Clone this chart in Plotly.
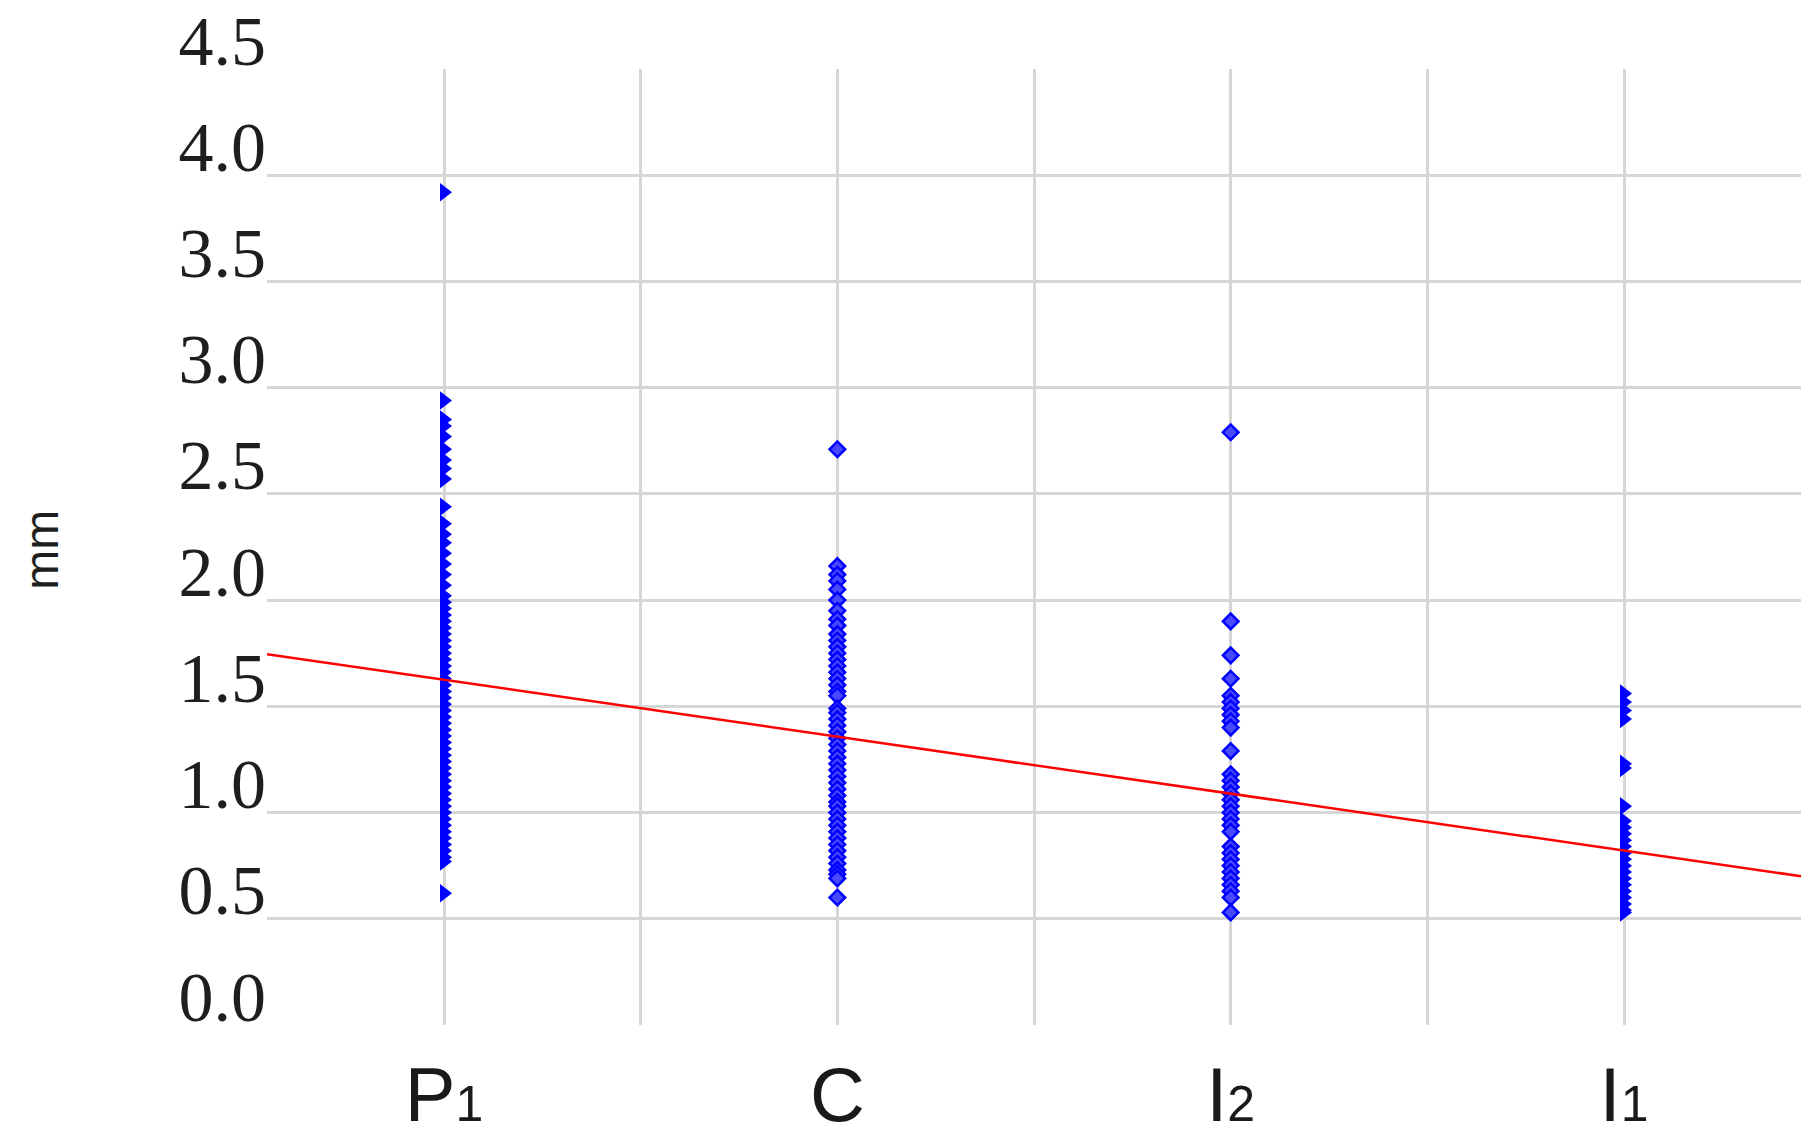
import plotly.graph_objects as go

categories = ["P<span style='font-size:50px'>1</span>", "C",
              "I<span style='font-size:50px'>2</span>", "I<span style='font-size:50px'>1</span>"]
cat_pos = [0, 1, 2, 3]

p1_values = [3.92, 2.94, 2.85, 2.82, 2.77, 2.71, 2.66, 2.62, 2.57, 2.44, 2.36, 2.31,
             2.27, 2.22, 2.17, 2.12, 2.07, 2.02, 1.99, 1.96, 1.93, 1.90, 1.87, 1.84,
             1.81, 1.78, 1.75, 1.72, 1.69, 1.66, 1.63, 1.60, 1.57, 1.54, 1.51, 1.48,
             1.45, 1.42, 1.39, 1.36, 1.33, 1.30, 1.27, 1.24, 1.21, 1.18, 1.15, 1.12,
             1.09, 1.06, 1.03, 1.00, 0.97, 0.94, 0.91, 0.88, 0.85, 0.82, 0.79, 0.77, 0.62]
c_values = [2.71, 2.16, 2.12, 2.09, 2.05, 2.00, 1.95, 1.91, 1.88, 1.84, 1.81, 1.78,
            1.75, 1.72, 1.69, 1.66, 1.63, 1.60, 1.57, 1.55, 1.49, 1.47, 1.44, 1.41,
            1.38, 1.35, 1.32, 1.29, 1.26, 1.23, 1.20, 1.17, 1.14, 1.11, 1.08, 1.05,
            1.03, 1.00, 0.97, 0.94, 0.91, 0.88, 0.85, 0.82, 0.79, 0.76, 0.73, 0.71,
            0.69, 0.60]
i2_values = [2.79, 1.90, 1.74, 1.63, 1.55, 1.52, 1.49, 1.46, 1.43, 1.40, 1.29, 1.18,
             1.15, 1.12, 1.09, 1.06, 1.03, 1.00, 0.97, 0.94, 0.91, 0.84, 0.81, 0.78,
             0.75, 0.72, 0.69, 0.66, 0.63, 0.60, 0.53]
i1_values = [1.56, 1.52, 1.48, 1.44, 1.23, 1.21, 1.03, 0.96, 0.93, 0.90, 0.87, 0.84,
             0.81, 0.78, 0.75, 0.72, 0.69, 0.66, 0.63, 0.60, 0.57, 0.54, 0.53]

series_values = [p1_values, c_values, i2_values, i1_values]
series_symbols = ["triangle-right", "diamond", "diamond", "triangle-right"]

trend_intercept = 1.625
trend_slope = -0.268

y_ticks = [0.0, 0.5, 1.0, 1.5, 2.0, 2.5, 3.0, 3.5, 4.0, 4.5]
y_tick_text = ["0.0", "0.5", "1.0", "1.5", "2.0", "2.5", "3.0", "3.5", "4.0", "4.5"]

x_range = [-0.45, 3.45]

fig = go.Figure()

for pos, vals, sym in zip(cat_pos, series_values, series_symbols):
    if sym == "triangle-right":
        marker = dict(symbol=sym, size=16, color="#0000ff", line=dict(width=0))
    else:
        marker = dict(symbol=sym, size=12, color="#4848ff", line=dict(width=2.5, color="#0000ff"))
    fig.add_trace(go.Scatter(x=[pos] * len(vals), y=vals, mode="markers",
                             marker=marker, showlegend=False, cliponaxis=False))

fig.add_trace(go.Scatter(
    x=x_range,
    y=[trend_intercept + trend_slope * x for x in x_range],
    mode="lines", line=dict(color="#ff0000", width=2.5), showlegend=False))

grid_col = "#d6d6d6"
fig.update_layout(
    width=1808, height=1143,
    margin=dict(l=267, r=7, t=69, b=118),
    paper_bgcolor="white", plot_bgcolor="white",
    xaxis=dict(
        range=x_range, tickmode="array", tickvals=cat_pos, ticktext=categories,
        showgrid=True, gridcolor=grid_col, gridwidth=2.5, zeroline=False,
        showline=False, ticks="", ticklabelstandoff=19, automargin=False,
        tickfont=dict(family="Liberation Sans", size=76, color="#1a1a1a"),
        minor=dict(tickvals=[0.5, 1.5, 2.5], showgrid=True, gridcolor=grid_col, gridwidth=2.5),
    ),
    yaxis=dict(
        range=[0, 4.5], tickmode="array", tickvals=y_ticks, ticktext=y_tick_text,
        showgrid=False, zeroline=False, showline=False, ticks="", automargin=False,
        ticklabelshift=-29, ticklabelstandoff=0,
        tickfont=dict(family="Liberation Serif", size=70, color="#1e1e1e"),
        minor=dict(tickvals=[0.5, 1.0, 1.5, 2.0, 2.5, 3.0, 3.5, 4.0], showgrid=True,
                   gridcolor=grid_col, gridwidth=2.5),
    ),
    annotations=[dict(text="mm", textangle=-90, xref="paper", yref="paper",
                      x=-0.1467, y=0.497, xanchor="center", yanchor="middle",
                      showarrow=False,
                      font=dict(family="Liberation Sans", size=48, color="#1e1e1e"))],
)

fig.write_html("out.html")
